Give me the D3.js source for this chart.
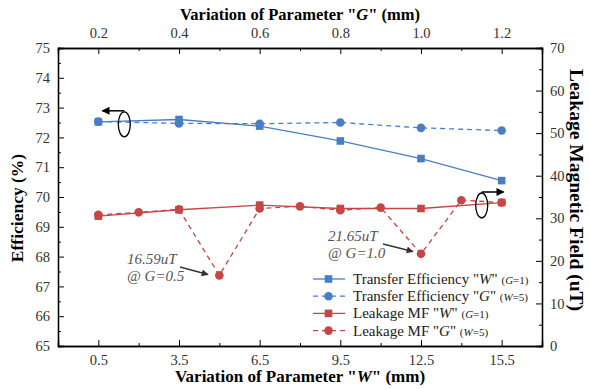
<!DOCTYPE html>
<html>
<head>
<meta charset="utf-8">
<script src="https://cdn.jsdelivr.net/npm/d3@7"></script>
<style>
  body { margin: 0; background: #fff; }
</style>
</head>
<body>
<div id="chart"></div>
<script>
// parameter W (bottom axis) and G (top axis)
const wValues = [0.5, 3.5, 6.5, 9.5, 12.5, 15.5];
const gValuesEff = [0.2, 0.4, 0.6, 0.8, 1.0, 1.2];
const gValuesLeak = [0.2, 0.3, 0.4, 0.5, 0.6, 0.7, 0.8, 0.9, 1.0, 1.1, 1.2];

// efficiency (%) - left axis
const effW = [72.52, 72.6, 72.38, 71.88, 71.29, 70.55];
const effG = [72.53, 72.47, 72.46, 72.5, 72.32, 72.23];

// leakage magnetic field (uT) - right axis
const leakW = [30.5, 32.0, 33.1, 32.3, 32.3, 33.7];
const leakG = [30.8, 31.4, 32.1, 16.59, 32.3, 32.8, 31.9, 32.5, 21.65, 34.25, 33.7];

const wTicks = [0.5, 3.5, 6.5, 9.5, 12.5, 15.5];
const gTicks = [0.2, 0.4, 0.6, 0.8, 1.0, 1.2];

const width = 589, height = 389;
const margin = { top: 48, right: 47, bottom: 43, left: 58 };
const innerW = width - margin.left - margin.right;
const innerH = height - margin.top - margin.bottom;
const FONT = 'Liberation Serif';

const blue = '#4a7ec4';
const red = '#c64646';
const tickColor = '#333';

const svg = d3.select('#chart').append('svg')
  .attr('width', width)
  .attr('height', height);

const g = svg.append('g').attr('transform', `translate(${margin.left},${margin.top})`);

const xW = d3.scaleLinear().domain([-1, 17]).range([0, innerW]);
const xG = d3.scaleLinear().domain([0.1, 1.3]).range([0, innerW]);
const yEff = d3.scaleLinear().domain([65, 75]).range([innerH, 0]);
const yLeak = d3.scaleLinear().domain([0, 70]).range([innerH, 0]);

// axes: ticks point inward
function styleAxis(sel) {
  sel.select('.domain').attr('stroke', '#000').attr('stroke-width', 1.3);
  sel.selectAll('.tick line').attr('stroke', '#000');
  sel.selectAll('.tick text')
    .attr('fill', tickColor)
    .attr('font-size', '14.5px');
}

// minor ticks first
g.append('g').attr('transform', `translate(0,${innerH})`)
  .call(d3.axisBottom(xW).tickValues([2, 5, 8, 11, 14]).tickSize(-3).tickFormat(''))
  .call(styleAxis);
g.append('g')
  .call(d3.axisTop(xG).tickValues([0.3, 0.5, 0.7, 0.9, 1.1]).tickSize(-3).tickFormat(''))
  .call(styleAxis);
g.append('g')
  .call(d3.axisLeft(yEff).tickValues(d3.range(65.5, 75, 1)).tickSize(-3).tickFormat(''))
  .call(styleAxis);
g.append('g').attr('transform', `translate(${innerW},0)`)
  .call(d3.axisRight(yLeak).tickValues(d3.range(5, 70, 10)).tickSize(-3).tickFormat(''))
  .call(styleAxis);

// major ticks
g.append('g').attr('transform', `translate(0,${innerH})`)
  .call(d3.axisBottom(xW).tickValues(wTicks).tickSize(-6).tickPadding(9).tickFormat(d3.format('.1f')))
  .call(styleAxis);
g.append('g')
  .call(d3.axisTop(xG).tickValues(gTicks).tickSize(-6).tickPadding(10).tickFormat(d3.format('.1f')))
  .call(styleAxis);
g.append('g')
  .call(d3.axisLeft(yEff).tickValues(d3.range(65, 76, 1)).tickSize(-6).tickPadding(8).tickFormat(d3.format('d')))
  .call(styleAxis);
g.append('g').attr('transform', `translate(${innerW},0)`)
  .call(d3.axisRight(yLeak).tickValues(d3.range(0, 71, 10)).tickSize(-6).tickPadding(8).tickFormat(d3.format('d')))
  .call(styleAxis);

// axis titles
svg.append('text')
  .attr('x', margin.left + innerW / 2).attr('y', 382)
  .attr('text-anchor', 'middle').attr('font-size', '17px').attr('font-weight', 'bold')
  .html('Variation of Parameter "<tspan font-style="italic">W</tspan>" (mm)');
svg.append('text')
  .attr('x', margin.left + innerW / 2).attr('y', 20)
  .attr('text-anchor', 'middle').attr('font-size', '16.5px').attr('font-weight', 'bold')
  .html('Variation of Parameter "<tspan font-style="italic">G</tspan>" (mm)');
svg.append('text')
  .attr('transform', `translate(23,${margin.top + innerH / 2 + 11}) rotate(-90)`)
  .attr('text-anchor', 'middle').attr('font-size', '17.5px').attr('font-weight', 'bold')
  .text('Efficiency (%)');
svg.append('text')
  .attr('transform', `translate(570,${margin.top + innerH / 2 - 7}) rotate(90)`)
  .attr('text-anchor', 'middle').attr('font-size', '19.5px').attr('font-weight', 'bold')
  .text('Leakage Magnetic Field (uT)');

// series
const series = [
  { xs: wValues, ys: effW, x: xW, y: yEff, color: blue, dash: null, marker: 'square',
    label: 'Transfer Efficiency "', it: 'W', note: 'G=1' },
  { xs: gValuesEff, ys: effG, x: xG, y: yEff, color: blue, dash: '5,4', marker: 'circle',
    label: 'Transfer Efficiency "', it: 'G', note: 'W=5' },
  { xs: wValues, ys: leakW, x: xW, y: yLeak, color: red, dash: null, marker: 'square',
    label: 'Leakage MF "', it: 'W', note: 'G=1' },
  { xs: gValuesLeak, ys: leakG, x: xG, y: yLeak, color: red, dash: '5,4', marker: 'circle',
    label: 'Leakage MF "', it: 'G', note: 'W=5' }
];

function drawMarker(sel, type, color) {
  if (type === 'square') {
    sel.append('rect').attr('x', -3.8).attr('y', -3.8).attr('width', 7.6).attr('height', 7.6).attr('fill', color);
  } else {
    sel.append('circle').attr('r', 4.3).attr('fill', color);
  }
}

series.forEach(s => {
  const pts = s.xs.map((v, i) => [s.x(v), s.y(s.ys[i])]);
  g.append('path')
    .datum(pts)
    .attr('fill', 'none')
    .attr('stroke', s.color)
    .attr('stroke-width', 1.3)
    .attr('stroke-dasharray', s.dash)
    .attr('d', d3.line());
  pts.forEach(p => {
    drawMarker(g.append('g').attr('transform', `translate(${p[0]},${p[1]})`), s.marker, s.color);
  });
});

// arrow heads
const defs = svg.append('defs');
defs.append('marker').attr('id', 'head').attr('viewBox', '0 0 10 10')
  .attr('refX', 9).attr('refY', 5).attr('markerWidth', 9).attr('markerHeight', 8)
  .attr('markerUnits', 'userSpaceOnUse').attr('orient', 'auto')
  .append('path').attr('d', 'M0,0 L10,5 L0,10 Z').attr('fill', '#000');
defs.append('marker').attr('id', 'headGrey').attr('viewBox', '0 0 10 10')
  .attr('refX', 9).attr('refY', 5).attr('markerWidth', 9).attr('markerHeight', 7)
  .attr('markerUnits', 'userSpaceOnUse').attr('orient', 'auto')
  .append('path').attr('d', 'M0,0 L10,5 L0,10 Z').attr('fill', '#333');

// axis indicators (ellipse + arrow)
function axisIndicator(cx, cy, dir) {
  svg.append('ellipse').attr('cx', cx).attr('cy', cy).attr('rx', 6).attr('ry', 12.5)
    .attr('fill', 'none').attr('stroke', '#000').attr('stroke-width', 1.3);
  svg.append('line').attr('x1', cx).attr('y1', cy - 13.5).attr('x2', cx + dir * 22).attr('y2', cy - 13.5)
    .attr('stroke', '#000').attr('stroke-width', 1.5).attr('marker-end', 'url(#head)');
}
axisIndicator(124.3, 124.3, -1);
axisIndicator(481.7, 205.5, 1);

// annotations
function annotate(x, y, val, at, ax1, ay1, ax2, ay2) {
  const t = svg.append('text').attr('x', x).attr('y', y)
    .attr('font-size', '15px').attr('font-style', 'italic').attr('fill', '#555');
  t.append('tspan').text(val);
  t.append('tspan').attr('x', x).attr('dy', 17).text(at);
  svg.append('line').attr('x1', ax1).attr('y1', ay1).attr('x2', ax2).attr('y2', ay2)
    .attr('stroke', '#333').attr('stroke-width', 1.3).attr('marker-end', 'url(#headGrey)');
}
annotate(127, 264, '16.59uT', '@ G=0.5', 180, 267, 208, 274.5);
annotate(328, 241, '21.65uT', '@ G=1.0', 383, 244, 413, 251.5);

// legend
const legend = svg.append('g').attr('transform', 'translate(313,279)');
series.forEach((s, i) => {
  const row = legend.append('g').attr('transform', `translate(0,${i * 17.2})`);
  row.append('line').attr('x1', 0).attr('x2', 32).attr('y1', 0).attr('y2', 0)
    .attr('stroke', s.color).attr('stroke-width', 1.3).attr('stroke-dasharray', s.dash);
  drawMarker(row.append('g').attr('transform', 'translate(15.5,0)'), s.marker, s.color);
  const t = row.append('text').attr('x', 40).attr('y', 5)
    .attr('font-size', '15px').attr('fill', '#222');
  t.append('tspan').text(s.label);
  t.append('tspan').attr('font-style', 'italic').text(s.it);
  t.append('tspan').text('" ');
  t.append('tspan').attr('font-size', '11px').text('(');
  t.append('tspan').attr('font-size', '11px').attr('font-style', 'italic').text(s.note.split('=')[0]);
  t.append('tspan').attr('font-size', '11px').text('=' + s.note.split('=')[1] + ')');
});

// one serif family for every text, axis groups included
svg.selectAll('g').attr('font-family', FONT);
svg.selectAll('text').attr('font-family', FONT).style('font-family', FONT);
</script>
</body>
</html>
